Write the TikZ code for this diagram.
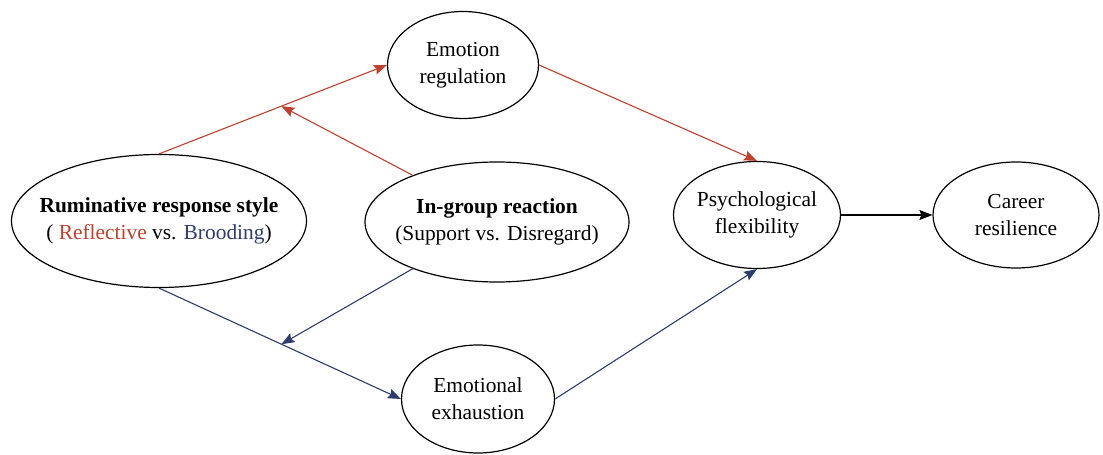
\documentclass[tikz,border=0pt]{standalone}
\usepackage{fontspec}
\setmainfont{Liberation Serif}
\usetikzlibrary{shapes.geometric,arrows.meta,calc}
\definecolor{refred}{RGB}{192,64,45}
\definecolor{refblue}{RGB}{47,60,110}
\tikzset{
  var/.style={ellipse,draw,line width=1.2bp,inner xsep=-16bp,inner ysep=0pt,align=center,
    font=\fontsize{21.5}{27}\selectfont},
  path/.style={->,>={Stealth[length=13bp,width=10bp,inset=2bp]},line width=1.1bp},
}
\begin{document}
\begin{tikzpicture}[x=1bp,y=-1bp]
\useasboundingbox (0,0) rectangle (1103,455);
% variables
\node[var,minimum width=295bp,minimum height=133bp] (rum) at (159,221)
  {\textbf{Ruminative response style}\\( \textcolor{refred}{Reflective} vs. \textcolor{refblue}{Brooding})};
\node[var,minimum width=264bp,minimum height=120bp] (ing) at (497,222)
  {\textbf{In-group reaction}\\(Support vs. Disregard)};
\node[var,minimum width=151bp,minimum height=107bp] (emo) at (463,65) {Emotion\\regulation};
\node[var,minimum width=153bp,minimum height=108bp] (exh) at (478,399) {Emotional\\exhaustion};
\node[var,minimum width=167bp,minimum height=107bp] (psy) at (757,215) {Psychological\\flexibility};
\node[var,minimum width=166bp,minimum height=106bp] (car) at (1016,215) {Career\\resilience};
% paths
\draw[path,refred] (rum.north) -- (emo.west) coordinate[pos=0.537] (redmid);
\draw[path,refred] (ing.151) -- (redmid);
\draw[path,refred] (emo.east) -- (psy.north);
\draw[path,refblue] (rum.south) -- (exh.west) coordinate[pos=0.506] (bluemid);
\draw[path,refblue] (ing.209) -- (bluemid);
\draw[path,refblue] (exh.east) -- (psy.south);
\draw[path] (psy.east) -- (car.west);
\end{tikzpicture}
\end{document}
